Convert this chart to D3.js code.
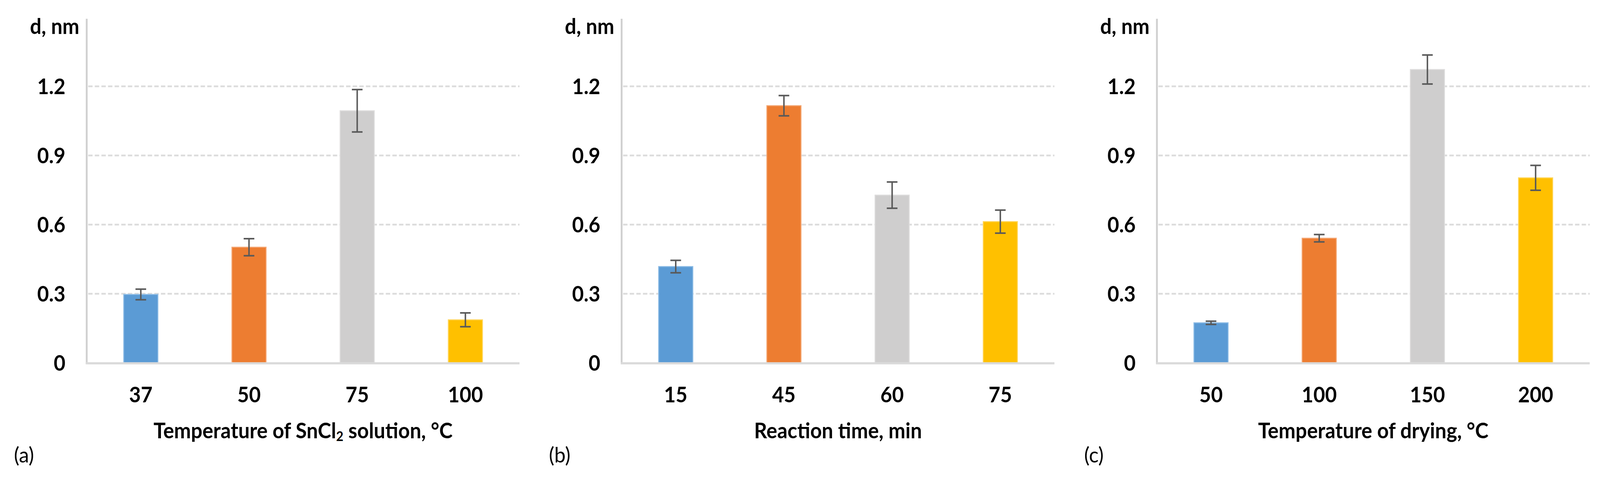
<!DOCTYPE html>
<html><head><meta charset="utf-8">
<script src="https://cdn.jsdelivr.net/npm/d3@7/dist/d3.min.js"></script>
<style>
html,body{margin:0;padding:0;background:#fff;overflow:hidden;width:100%;height:100%;}
#chart{display:block;width:100vw;height:100vh;}
svg text{font-family:"Lato","Liberation Sans",sans-serif;font-weight:bold;fill:#000;}
</style></head>
<body>
<svg id="chart" viewBox="0 0 4355 1239" preserveAspectRatio="none"></svg>
<script>
// ---- data ----
const yTicks = [0, 0.3, 0.6, 0.9, 1.2];
const colors = ["#5B9BD5", "#ED7D31", "#CFCECE", "#FFC000"];
const edgeColors = ["#8DBCE6", "#F4A774", "#DEDDDD", "#FFD65C"];

const categoriesA = ["37", "50", "75", "100"];
const valuesA = [0.297, 0.502, 1.094, 0.187];
const errorsA = [0.023, 0.037, 0.092, 0.030];

const categoriesB = ["15", "45", "60", "75"];
const valuesB = [0.418, 1.116, 0.728, 0.613];
const errorsB = [0.027, 0.044, 0.057, 0.050];

const categoriesC = ["50", "100", "150", "200"];
const valuesC = [0.174, 0.541, 1.273, 0.803];
const errorsC = [0.007, 0.016, 0.063, 0.054];

const panelLabels = ["(a)", "(b)", "(c)"];
const yTitle = "d, nm";

const panels = [
  {cats: categoriesA, vals: valuesA, errs: errorsA, title: [["Temperature of SnCl", false], ["2", true], [" solution, °C", false]], label: panelLabels[0]},
  {cats: categoriesB, vals: valuesB, errs: errorsB, title: [["Reaction time, min", false]], label: panelLabels[1]},
  {cats: categoriesC, vals: valuesC, errs: errorsC, title: [["Temperature of drying, °C", false]], label: panelLabels[2]}
];

// ---- layout ----
const svg = d3.select("#chart");
const axisLeft = [236, 1692, 3149];
const plotW = 1178;
const plotTop = 48, plotBottom = 929;
const y = d3.scaleLinear().domain([0, 1.2]).range([plotBottom, 221]);
const fs = 55;

panels.forEach((p, pi) => {
  const x0 = axisLeft[pi];
  const x = d3.scaleBand().domain(p.cats).range([x0, x0 + plotW]).paddingInner(0.684).paddingOuter(0.342);
  const g = svg.append("g");
  const cx = c => x(c) + x.bandwidth() / 2;

  // gridlines
  g.selectAll("line.grid").data(yTicks.filter(t => t > 0)).join("line")
    .attr("x1", x0 + 4).attr("x2", x0 + plotW)
    .attr("y1", d => y(d)).attr("y2", d => y(d))
    .attr("stroke", "#DCDCDC").attr("stroke-width", 4.5).attr("stroke-dasharray", "12,6");

  // bars
  g.selectAll("rect.bar").data(p.vals).join("rect")
    .attr("x", (d, i) => x(p.cats[i])).attr("width", x.bandwidth())
    .attr("y", d => y(d)).attr("height", d => y(0) - y(d))
    .attr("fill", (d, i) => colors[i])
    .attr("stroke", (d, i) => edgeColors[i]).attr("stroke-width", 2.5);

  // error bars
  const eb = g.selectAll("g.err").data(p.vals).join("g");
  eb.append("line")
    .attr("x1", (d, i) => cx(p.cats[i])).attr("x2", (d, i) => cx(p.cats[i]))
    .attr("y1", (d, i) => y(d + p.errs[i])).attr("y2", (d, i) => y(d - p.errs[i]));
  [1, -1].forEach(s => {
    eb.append("line")
      .attr("x1", (d, i) => cx(p.cats[i]) - 14.5).attr("x2", (d, i) => cx(p.cats[i]) + 14.5)
      .attr("y1", (d, i) => y(d + s * p.errs[i])).attr("y2", (d, i) => y(d + s * p.errs[i]));
  });
  eb.selectAll("line").attr("stroke", "#595959").attr("stroke-width", 4);

  // axes lines
  g.append("line").attr("x1", x0).attr("x2", x0).attr("y1", plotTop).attr("y2", y(0) + 3)
    .attr("stroke", "#D0D0D0").attr("stroke-width", 5);
  g.append("line").attr("x1", x0 - 2.5).attr("x2", x0 + plotW).attr("y1", y(0) + 1).attr("y2", y(0) + 1)
    .attr("stroke", "#DADADA").attr("stroke-width", 5.5);

  // y tick labels
  g.selectAll("text.yt").data(yTicks).join("text")
    .attr("x", x0 - 58).attr("y", d => y(d) + 20)
    .attr("text-anchor", "end").attr("font-size", fs)
    .text(d => d === 0 ? "0" : d.toFixed(1));

  // x tick labels
  g.selectAll("text.xt").data(p.cats).join("text")
    .attr("x", d => cx(d)).attr("y", 1030)
    .attr("text-anchor", "middle").attr("font-size", fs)
    .text(d => d);

  // y title
  g.append("text").attr("x", x0 - 20).attr("y", 87).attr("text-anchor", "end").attr("font-size", fs).text(yTitle);

  // x title
  const t = g.append("text").attr("x", x0 + plotW / 2).attr("y", 1122).attr("text-anchor", "middle").attr("font-size", fs);
  p.title.forEach(([s, sub]) => {
    if (sub) {
      t.append("tspan").attr("font-size", fs * 0.62).attr("dy", 7).text(s);
    } else {
      const ts = t.append("tspan").text(s);
      if (p.title.length > 1 && s.startsWith(" ")) ts.attr("dy", -7);
    }
  });

  // panel label
  g.append("text").attr("x", x0 - 198).attr("y", 1184).attr("font-size", fs)
    .style("font-weight", "normal").text(p.label);
});
</script>
</body></html>
